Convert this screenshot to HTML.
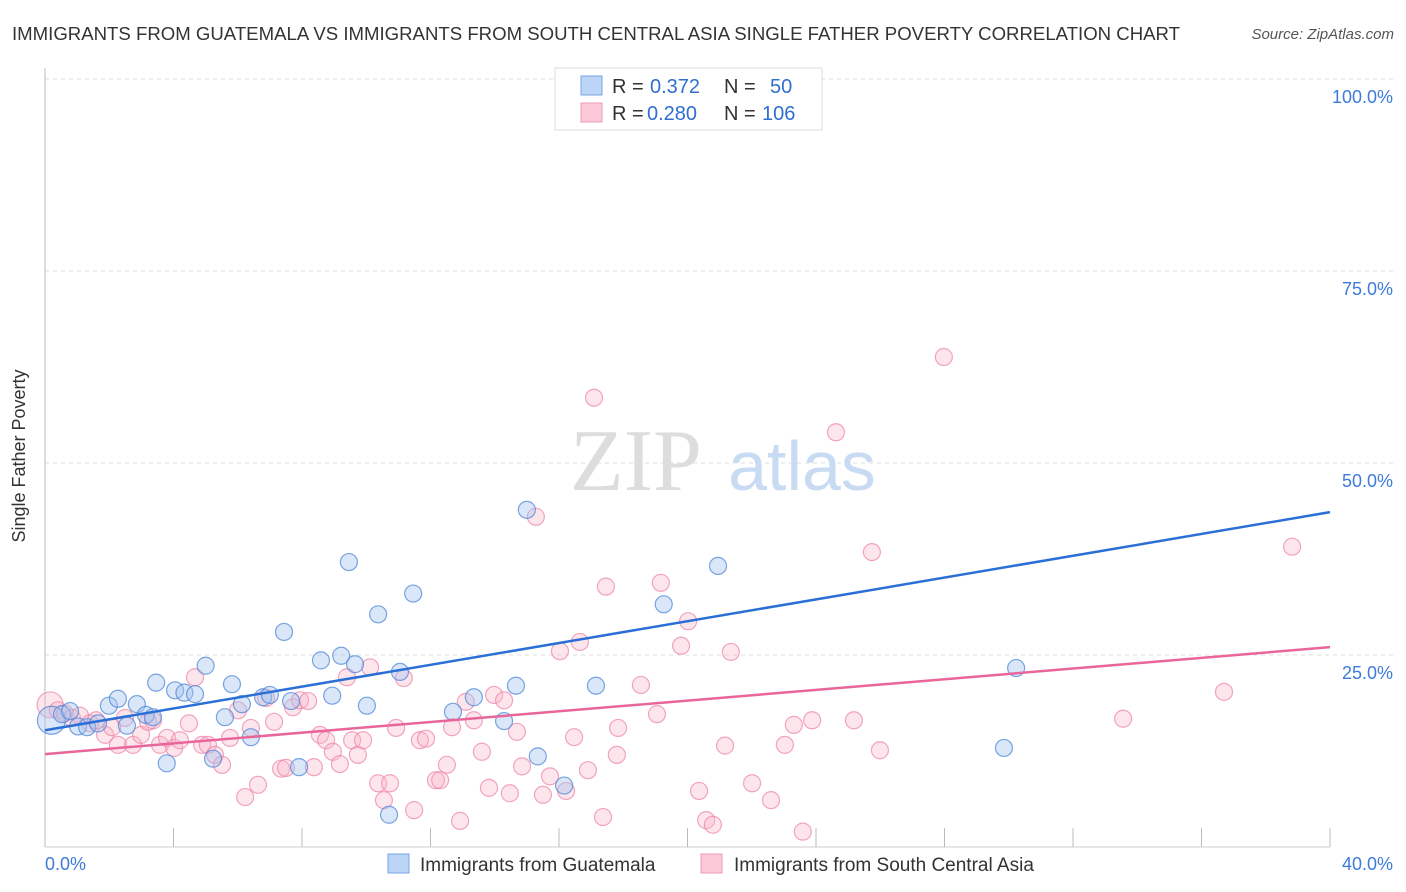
<!DOCTYPE html>
<html><head><meta charset="utf-8"><style>
body{margin:0;background:#fff;font-family:"Liberation Sans",sans-serif}
svg{display:block}
</style></head><body>
<svg id="c" width="1406" height="892" xmlns="http://www.w3.org/2000/svg">
<text x="12" y="40" font-size="18" fill="#333" textLength="1168" lengthAdjust="spacingAndGlyphs">IMMIGRANTS FROM GUATEMALA VS IMMIGRANTS FROM SOUTH CENTRAL ASIA SINGLE FATHER POVERTY CORRELATION CHART</text>
<text x="1394" y="39" font-size="15" fill="#555" font-style="italic" text-anchor="end">Source: ZipAtlas.com</text>
<text x="25" y="456" font-size="18" fill="#333" text-anchor="middle" transform="rotate(-90 25 456)">Single Father Poverty</text>
<g id="grid"></g>
<text x="636" y="490" font-size="88" fill="#ddd" font-family="Liberation Serif,serif" text-anchor="middle">ZIP</text>
<text x="802" y="490" font-size="70" fill="#c8dbf3" text-anchor="middle">atlas</text>
<g id="pts"></g>
<g id="lines"></g>
<g>
<rect x="555" y="68" width="267" height="62" fill="#fff" stroke="#ddd"/>
<rect x="581" y="76" width="21" height="19" fill="#bcd4f6" stroke="#7aa6e6"/>
<rect x="581" y="103" width="21" height="19" fill="#fbc9d8" stroke="#ee9ab4"/>
<text x="612" y="93" font-size="20" fill="#333">R =</text><text x="650" y="93" font-size="20" fill="#2f6fd0">0.372</text>
<text x="724" y="93" font-size="20" fill="#333">N =</text><text x="770" y="93" font-size="20" fill="#2f6fd0">50</text>
<text x="612" y="120" font-size="20" fill="#333">R =</text><text x="647" y="120" font-size="20" fill="#2f6fd0">0.280</text>
<text x="724" y="120" font-size="20" fill="#333">N =</text><text x="762" y="120" font-size="20" fill="#2f6fd0">106</text>
</g>
<g>
<rect x="388" y="854" width="21" height="19" fill="#bcd4f6" stroke="#7aa6e6"/>
<text x="420" y="871" font-size="19" fill="#333">Immigrants from Guatemala</text>
<rect x="701" y="854" width="21" height="19" fill="#fbc9d8" stroke="#ee9ab4"/>
<text x="734" y="871" font-size="19" fill="#333">Immigrants from South Central Asia</text>
</g>
</svg>
<script>
const xTicks=[0,4,8,12,16,20,24,28,32,36,40];
const yTicks=[25,50,75,100];
const blueX=[0.2,0.53,0.78,1.03,1.31,1.65,1.99,2.27,2.55,2.86,3.14,3.36,3.46,3.79,4.05,4.34,4.67,5.0,5.23,5.6,5.82,6.13,6.41,6.79,7.0,7.44,7.66,7.91,8.59,8.94,9.22,9.46,9.65,10.02,10.37,10.71,11.05,11.46,12.7,13.35,14.29,14.66,15.0,15.34,16.16,17.15,19.26,20.95,29.85,30.23];
const blueY=[16.5,17.3,17.7,15.7,15.6,16.1,18.4,19.3,15.8,18.6,17.2,16.9,21.4,10.9,20.4,20.1,19.9,23.6,11.5,16.9,21.2,18.6,14.3,19.5,19.8,28.0,19.0,10.4,24.3,19.7,24.9,37.1,23.8,18.4,30.3,4.2,22.8,33.0,17.6,19.5,16.4,21.0,43.9,11.8,8.0,21.0,31.6,36.6,12.9,23.3];
const pinkX=[0.16,0.40,0.62,0.84,1.09,1.40,1.59,1.87,2.09,2.27,2.49,2.74,2.99,3.21,3.36,3.58,3.80,4.02,4.20,4.48,4.67,4.89,5.07,5.29,5.51,5.76,6.01,6.23,6.41,6.63,6.88,7.13,7.35,7.50,7.72,7.94,8.19,8.37,8.56,8.75,8.96,9.18,9.40,9.56,9.74,9.90,10.12,10.37,10.55,10.74,10.93,11.17,11.49,11.67,11.86,12.17,12.30,12.51,12.67,12.92,13.10,13.35,13.60,13.82,13.98,14.29,14.47,14.69,14.85,15.28,15.50,15.72,16.03,16.22,16.47,16.65,16.90,17.09,17.37,17.46,17.80,17.84,18.55,19.05,19.17,19.80,20.02,20.36,20.58,20.79,21.17,21.35,22.01,22.60,23.03,23.31,23.59,23.88,24.62,25.18,25.74,25.99,27.98,33.56,36.70,38.82];
const pinkY=[18.5,17.8,17.4,16.8,17.1,16.1,16.5,14.6,15.6,13.3,16.8,13.3,14.6,16.3,16.5,13.3,14.2,12.9,13.9,16.1,22.1,13.3,13.3,12.0,10.7,14.2,17.8,6.5,15.5,8.1,19.4,16.3,10.2,10.3,18.2,19.1,19.0,10.4,14.6,13.9,12.4,10.8,22.1,13.9,12.0,13.9,23.4,8.3,6.1,8.3,15.5,22.0,4.8,13.9,14.1,8.7,8.7,10.7,15.6,3.4,18.9,16.5,12.4,7.7,19.8,19.1,7.0,15.0,10.5,43.0,6.8,9.2,25.5,7.3,14.3,26.7,10.0,58.5,3.9,33.9,12.0,15.5,21.1,17.3,34.4,26.2,29.4,7.3,3.5,2.9,13.2,25.4,8.3,6.1,13.3,15.9,2.0,16.5,54.0,16.5,38.4,12.6,63.8,16.7,20.2,39.1];
const blueTrend=[15.2,0.71];
const pinkTrend=[12.1,0.348];
const bSizes={0:14};const pSizes={0:13};
const X=v=>45+v/40*1285, Y=v=>847-v/100*768;
const NS="http://www.w3.org/2000/svg";
function mk(t,a,p){const e=document.createElementNS(NS,t);for(const k in a)e.setAttribute(k,a[k]);p.appendChild(e);return e;}
const grid=document.getElementById('grid');
yTicks.forEach(t=>{
const l=mk('line',{x1:45,x2:1394,y1:Y(t),y2:Y(t),stroke:'#ddd','stroke-dasharray':'4,4'},grid);


const tx=mk('text',{x:1393,y:Y(t)+24,'font-size':18,fill:'#3d7bd9','text-anchor':'end'},grid);
tx.textContent=t.toFixed(1)+'%';


});
const ax=mk('line',{x1:45,x2:45,y1:68,y2:847,stroke:'#bbb'},grid);


const bx=mk('line',{x1:45,x2:1330,y1:847,y2:847,stroke:'#ccc'},grid);


xTicks.forEach(t=>{
const l=mk('line',{x1:X(t),x2:X(t),y1:828,y2:847,stroke:'#bbb'},grid);


});
[[0,'start',45],[40,'end',1393]].forEach(([v,a,x])=>{
const tx=mk('text',{x:x,y:870,'font-size':18,fill:'#3d7bd9','text-anchor':a},grid);
tx.textContent=v.toFixed(1)+'%';


});
const pts=document.getElementById('pts');
pinkX.forEach((v,i)=>{
const c=mk('circle',{cx:X(v),cy:Y(pinkY[i]),r:pSizes[i]||8.5,fill:'rgba(248,180,200,0.35)',stroke:'rgba(236,130,165,0.7)','stroke-width':1.2},pts);


});
blueX.forEach((v,i)=>{
const c=mk('circle',{cx:X(v),cy:Y(blueY[i]),r:bSizes[i]||8.5,fill:'rgba(160,195,240,0.4)',stroke:'rgba(80,135,215,0.75)','stroke-width':1.2},pts);


});
const lines=document.getElementById('lines');
const bl=mk('line',{x1:X(0),y1:Y(blueTrend[0]),x2:X(40),y2:Y(blueTrend[0]+blueTrend[1]*40),stroke:'#2a6fd6','stroke-width':2.5},lines);


const pl=mk('line',{x1:X(0),y1:Y(pinkTrend[0]),x2:X(40),y2:Y(pinkTrend[0]+pinkTrend[1]*40),stroke:'#e8669a','stroke-width':2.5},lines);


</script>
</body></html>
